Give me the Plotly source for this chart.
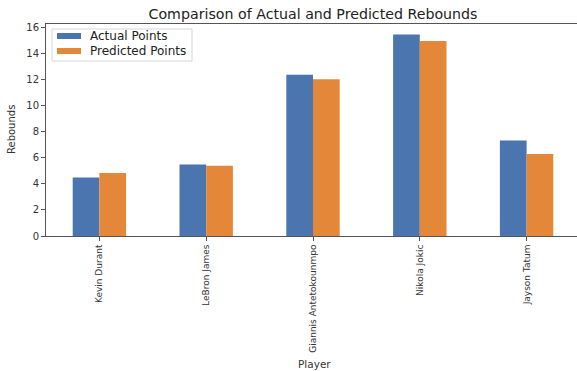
import plotly.graph_objects as go

players = ["Kevin Durant", "LeBron James", "Giannis Antetokounmpo", "Nikola Jokic", "Jayson Tatum"]
actual = [4.5, 5.5, 12.4, 15.5, 7.35]
predicted = [4.85, 5.4, 12.05, 15.0, 6.3]
series_names = ["Actual Points", "Predicted Points"]
colors = ["#4A75AF", "#E48739"]

W, H = 577, 371
ML, MR, MT, MB = 46, 0, 24, 135
PW, PH = W - ML - MR, H - MT - MB

def px(x):
    return (x - ML) / PW

def py(y):
    return (MT + PH - y) / PH

FONT = "DejaVu Sans"

fig = go.Figure()
for name, vals, col in zip(series_names, [actual, predicted], colors):
    fig.add_trace(go.Bar(
        x=players, y=vals, name=name, marker_color=col,
        marker_line_width=0, showlegend=False,
    ))

# legend drawn as a framed box with wide swatches
shapes = [dict(type="rect", xref="paper", yref="paper",
               x0=px(52), x1=px(192), y0=py(61), y1=py(29),
               line=dict(color="#D6D6D6", width=1), fillcolor="rgba(255,255,255,0.85)")]
annotations = []
for i, (name, col) in enumerate(zip(series_names, colors)):
    cy = 36 + i * 15
    shapes.append(dict(type="rect", xref="paper", yref="paper",
                       x0=px(57), x1=px(81), y0=py(cy + 3), y1=py(cy - 3),
                       line=dict(width=0), fillcolor=col))
    annotations.append(dict(xref="paper", yref="paper", x=px(88), y=py(cy),
                            text=name, showarrow=False, xanchor="left", yanchor="middle",
                            font=dict(family=FONT, size=12, color="#222")))

# axis titles
annotations.append(dict(xref="paper", yref="paper", x=px(314), y=py(364),
                        text="Player", showarrow=False, xanchor="center", yanchor="middle",
                        font=dict(family=FONT, size=10.5, color="#333")))
annotations.append(dict(xref="paper", yref="paper", x=px(11), y=py(130),
                        text="Rebounds", showarrow=False, textangle=-90,
                        xanchor="center", yanchor="middle",
                        font=dict(family=FONT, size=10, color="#333")))

fig.update_layout(
    width=W, height=H,
    margin=dict(l=ML, r=MR, t=MT, b=MB),
    plot_bgcolor="white", paper_bgcolor="white",
    barmode="group", bargap=0.5, bargroupgap=0,
    title=dict(text="Comparison of Actual and Predicted Rebounds",
               x=px(313), xref="paper", xanchor="center", y=1 - 14 / H, yanchor="middle",
               font=dict(family=FONT, size=14.2, color="#222")),
    font=dict(family=FONT, color="#333"),
    shapes=shapes, annotations=annotations,
    xaxis=dict(
        range=[-0.5, 4.5 - 3 / 106.75], showgrid=False, automargin=False,
        showline=True, mirror=True, linecolor="#555", linewidth=1,
        ticks="outside", ticklen=4, tickcolor="#555", tickangle=-90,
        tickfont=dict(family=FONT, size=9, color="#333"),
    ),
    yaxis=dict(
        range=[0, 16.3], showgrid=False, zeroline=False, automargin=False,
        showline=True, linecolor="#555", linewidth=1,
        tickvals=[0, 2, 4, 6, 8, 10, 12, 14, 16],
        ticks="outside", ticklen=4, tickcolor="#555",
        tickfont=dict(family=FONT, size=10, color="#333"),
    ),
)

fig.write_html("out.html")
